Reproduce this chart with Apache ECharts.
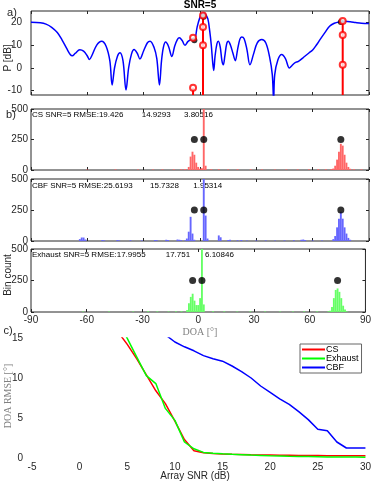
<!DOCTYPE html>
<html><head><meta charset="utf-8">
<script src="https://cdn.jsdelivr.net/npm/echarts@6/dist/echarts.min.js"></script>
<style>html,body{margin:0;padding:0;background:#fff}#c{width:374px;height:481px}</style>
</head><body><div id="c"></div>
<script>
// ---------- data ----------
const doaTicks = [-90, -60, -30, 0, 30, 60, 90];
const pTicks = [-10, 0, 10, 20];
const countTicks = [0, 250, 500];
const snrTicks = [-5, 0, 5, 10, 15, 20, 25, 30];
const rmseTicks = [0, 5, 10, 15];

// panel a: beam power (deg, dB)
const beamDeg = [-90,-85,-82,-79,-76,-73.5,-71,-69,-68,-66.5,-64,-62,-60,-58.9,-57.5,-55,-52.4,-50,-48,-46.8,-45.5,-44,-42.6,-41,-39.4,-38,-36.5,-35.1,-33.5,-32,-30,-28,-26.6,-24.5,-23,-21.6,-20.5,-19.5,-18.3,-16.8,-15,-13.5,-12,-11,-9.5,-8,-6.5,-5,-4,-3,-1.5,0,1,2,3,4.2,5.2,6,6.8,7.3,8,9,9.8,10.8,11.7,12.4,13.2,14.2,15.1,16.2,17.5,18.8,20,21.2,22.2,23.5,25,26.6,28.5,30.5,32.9,35,37,38.5,39.2,39.8,41.5,43.5,45.5,47.6,49,50.5,52.4,55,58,60,62,64,66.5,69,71.5,74,77,80,83,86,90];
const beamDb = [20,19.8,19.2,17.8,15.5,12.3,8.5,5.7,5.3,6.3,7.9,7.3,5.2,3.6,5.5,10,11.7,9.5,3,-7.6,0,5,6.6,3,-9.8,0,6,8,6.5,3.9,7.5,11,11.7,9,4,-7.6,3,9,11.3,9.5,5,9.5,12.5,13.2,12,9.9,11.5,12.4,12.8,12.2,18,22.3,23.7,24,23.5,21.5,16,10,2,-1.2,5,10.5,11.7,9,3,1.3,5,10.5,11.7,10,6.5,3.1,8,12.5,13.6,12.8,8,1.3,6,11,12.4,11,5,-3,-14,-3,3.5,5.8,4,-0.1,1,2.2,2.8,4.5,6.5,7.8,10,12.5,15.5,18.3,19.6,20.2,20.5,20.3,19.9,19.6,19.5];
// red stems (estimates) and circles
const stemDoa = [-3.7, 1.6, 76];
const stemTop = [-8.8, 23, 20.6];
const estDoa = [-3.7, -3.7, 1.6, 1.6, 1.6, 76, 76, 76];
const estP = [13.2, -8.8, 23, 17.9, 9.9, 20.6, 14.4, 1.3];
// true DOAs
const trueDoa = [-3, 2, 75];
const trueP = [12.1, 22.5, 20.2];
const trueCount = [250, 250, 250];

// histograms (bin centre deg, count)
const csBins   = [-60,-45,-33,-25,-20,-14,-10,-8,-6,-5,-4,-3,-2,-1,0,1,2,3,6,10,15,20,27,33,40,46,52,58,63,67,70,71,72,73,74,75,76,77,78,79,80,82,86];
const csCounts = [4,5,4,5,5,6,6,8,25,110,150,125,60,25,10,15,700,35,6,6,5,6,5,5,4,5,5,5,6,6,8,12,35,85,150,215,200,125,60,25,10,6,5];
const cbfBins   = [-64,-63,-62,-61,-52,-51,-44,-43,-37,-31,-24,-23,-18,-17,-12,-11,-10,-8,-7,-6,-5,-4,-3,2,3,4,10,11,15,16,20,22,25,30,35,40,45,50,54,55,56,60,65,71,72,73,74,75,76,77,78,79,80];
const cbfCounts = [15,28,28,12,8,5,8,5,6,5,8,6,10,8,12,10,6,5,20,75,195,60,10,700,205,20,45,30,8,10,6,8,5,5,5,4,5,6,10,12,8,5,5,15,40,110,180,236,180,110,60,25,10];
const exBins   = [-62,-48,-35,-27,-22,-16,-12,-9,-6,-5,-4,-3,-2,-1,0,1,2,3,8,14,21,28,36,44,51,57,64,70,71,72,73,74,75,76,77,78,79,80];
const exCounts = [3,4,4,5,5,4,5,6,15,70,120,145,90,55,55,110,700,60,6,5,4,5,4,4,4,5,5,5,10,40,110,175,187,160,110,50,20,5];

// panel c: RMSE vs array SNR
const snr = [4,5,6,7,8,9,10,11,12,13,14,15,16,17,18,19,20,21,22,23,24,25,26,27,28,29,30];
const rmseCS      = [15.8,14.2,12.4,10.4,8.4,6.8,4.6,2.3,0.9,0.65,0.55,0.5,0.46,0.43,0.4,0.38,0.36,0.34,0.33,0.32,0.31,0.3,0.29,0.29,0.28,0.28,0.28];
const rmseExhaust = [17.3,14.95,12.6,10.3,9.3,6.2,4.7,2.0,1.15,0.7,0.6,0.52,0.46,0.41,0.36,0.32,0.28,0.25,0.22,0.2,0.18,0.16,0.14,0.13,0.12,0.11,0.1];
const rmseCBF     = [null,null,null,null,null,15.4,14.5,13.9,13.4,12.8,12.4,12.1,11.5,10.8,10.0,9.0,8.2,7.4,6.7,5.8,4.8,3.6,3.4,2.0,1.25,1.25,1.25];

// ---------- styling ----------
const AX = '#262626';
const SANS = 'Liberation Sans, Arial, Helvetica, sans-serif';
const SERIF = 'Liberation Serif, Times New Roman, serif';

const grids = [
  {left: 31, right: 5, top: 11, height: 84, show: true},
  {left: 31, right: 5, top: 109, height: 61, show: true},
  {left: 31, right: 5, top: 179, height: 62, show: true},
  {left: 31, right: 5, top: 249, height: 63, show: true},
  {left: 32, right: 5, top: 338, height: 120, show: false}
].map(g => Object.assign({borderColor: AX, borderWidth: 1, backgroundColor: 'transparent'}, g));

const xAxes = [], yAxes = [];
function addAxes(gi, xr, xt, showXLab, yr, yt, ylabMargin, xlabMargin, box) {
  const tick = {show: box, inside: true, length: 3, lineStyle: {color: AX, width: 1}};
  const line = {show: false, onZero: false};
  const common = {type: 'value', gridIndex: gi, splitLine: {show: false}};
  xAxes.push(Object.assign({}, common, {min: xr[0], max: xr[1], position: 'bottom', axisLine: line,
    axisTick: Object.assign({customValues: xt}, tick),
    axisLabel: {show: showXLab, customValues: xt, margin: xlabMargin, fontSize: 10, color: AX, fontFamily: SANS}}));
  xAxes.push(Object.assign({}, common, {min: xr[0], max: xr[1], position: 'top', show: box,
    axisLine: line, axisTick: Object.assign({customValues: xt}, tick), axisLabel: {show: false}}));
  yAxes.push(Object.assign({}, common, {min: yr[0], max: yr[1], position: 'left', axisLine: line,
    axisTick: Object.assign({customValues: yt}, tick),
    axisLabel: {show: true, customValues: yt, margin: ylabMargin, fontSize: 10, color: AX, fontFamily: SANS}}));
  yAxes.push(Object.assign({}, common, {min: yr[0], max: yr[1], position: 'right', show: box,
    axisLine: line, axisTick: Object.assign({customValues: yt}, tick), axisLabel: {show: false}}));
}
addAxes(0, [-90, 90], doaTicks, false, [-12, 25], pTicks, 9, 4, true);
addAxes(1, [-90, 90], doaTicks, false, [0, 500], countTicks, 3, 4, true);
addAxes(2, [-90, 90], doaTicks, false, [0, 500], countTicks, 3, 4, true);
addAxes(3, [-90, 90], doaTicks, true, [0, 500], countTicks, 3, 3, true);
addAxes(4, [-5, 30], snrTicks, true, [0, 15], rmseTicks, 9, 4, false);

function zip(a, b) { return a.map((v, i) => [v, b[i]]); }

function histSeries(gi, bins, counts, color) {
  return {
    type: 'custom', xAxisIndex: gi * 2, yAxisIndex: gi * 2, clip: true, silent: true,
    data: zip(bins, counts),
    renderItem: function (params, api) {
      const c = api.value(0), v = api.value(1);
      const p0 = api.coord([c - 0.5, 0]);
      const p1 = api.coord([c + 0.5, v]);
      const rect = echarts.graphic.clipRectByRect(
        {x: p0[0], y: p1[1], width: p1[0] - p0[0], height: p0[1] - p1[1]},
        {x: params.coordSys.x, y: params.coordSys.y, width: params.coordSys.width, height: params.coordSys.height});
      return rect && {type: 'rect', shape: rect, style: {fill: color}};
    }
  };
}
function markerSeries(gi, xs, ys, size) {
  return {type: 'scatter', xAxisIndex: gi * 2, yAxisIndex: gi * 2, symbol: 'circle', symbolSize: size,
    itemStyle: {color: '#000'}, data: zip(xs, ys), silent: true, z: 5};
}

const series = [
  {type: 'line', xAxisIndex: 0, yAxisIndex: 0, data: zip(beamDeg, beamDb), smooth: 0.35, showSymbol: false,
   lineStyle: {color: '#0000ff', width: 1.5}, silent: true},
  {type: 'custom', xAxisIndex: 0, yAxisIndex: 0, clip: true, silent: true, data: zip(stemDoa, stemTop),
   renderItem: function (params, api) {
     const p0 = api.coord([api.value(0), -12]);
     const p1 = api.coord([api.value(0), api.value(1)]);
     return {type: 'line', shape: {x1: p0[0], y1: p0[1], x2: p1[0], y2: p1[1]}, style: {stroke: '#ff0000', lineWidth: 2}};
   }, z: 3},
  markerSeries(0, trueDoa, trueP, 6),
  {type: 'scatter', xAxisIndex: 0, yAxisIndex: 0, symbol: 'emptyCircle', symbolSize: 6, silent: true,
   itemStyle: {color: '#ff0000', borderColor: '#ff0000', borderWidth: 2}, data: zip(estDoa, estP), z: 6},
  histSeries(1, csBins, csCounts, '#ff6666'),
  markerSeries(1, trueDoa, trueCount, 7),
  histSeries(2, cbfBins, cbfCounts, '#6666ff'),
  markerSeries(2, trueDoa, trueCount, 7),
  histSeries(3, exBins, exCounts, '#66ff66'),
  markerSeries(3, trueDoa, trueCount, 7),
  {name: 'CS', type: 'line', xAxisIndex: 8, yAxisIndex: 8, data: zip(snr, rmseCS), showSymbol: false,
   lineStyle: {color: '#ff0000', width: 1.5}, itemStyle: {color: '#ff0000'}, silent: true},
  {name: 'Exhaust', type: 'line', xAxisIndex: 8, yAxisIndex: 8, data: zip(snr, rmseExhaust), showSymbol: false,
   lineStyle: {color: '#00ff00', width: 1.5}, itemStyle: {color: '#00ff00'}, silent: true},
  {name: 'CBF', type: 'line', xAxisIndex: 8, yAxisIndex: 8, data: zip(snr, rmseCBF), showSymbol: false,
   lineStyle: {color: '#0000ff', width: 1.5}, itemStyle: {color: '#0000ff'}, silent: true}
];

function txt(x, y, s, opt) {
  return Object.assign({type: 'text', x: x, y: y, silent: true,
    style: Object.assign({text: s, fontSize: 10, fontFamily: SANS, fill: AX, textAlign: 'left', textVerticalAlign: 'middle'}, (opt && opt.style) || {})},
    opt && opt.rotation ? {rotation: opt.rotation} : {});
}
const R = Math.PI / 2;
const graphics = [
  txt(200, 5, 'SNR=5', {style: {fontWeight: 'bold', textAlign: 'center', fill: '#000'}}),
  txt(12, 13, 'a)', {style: {textAlign: 'center', fontSize: 11}}),
  txt(11, 115, 'b)', {style: {textAlign: 'center', fontSize: 11}}),
  txt(8, 331, 'c)', {style: {textAlign: 'center', fontSize: 11}}),
  txt(8, 58, 'P [dB]', {rotation: R, style: {textAlign: 'center'}}),
  txt(8, 275, 'Bin count', {rotation: R, style: {textAlign: 'center'}}),
  txt(200, 332, 'DOA [°]', {style: {textAlign: 'center', fontFamily: SERIF, fill: '#808080', fontSize: 10}}),
  txt(8, 396, 'DOA RMSE [°]', {rotation: R, style: {textAlign: 'center', fontFamily: SERIF, fill: '#808080', fontSize: 10}}),
  txt(195, 476, 'Array SNR (dB)', {style: {textAlign: 'center', fontSize: 10}}),
  txt(32, 115, 'CS SNR=5 RMSE:19.426', {style: {fontSize: 8, fill: '#000'}}),
  txt(141.7, 115, '14.9293', {style: {fontSize: 8, fill: '#000'}}),
  txt(184, 115, '3.80516', {style: {fontSize: 8, fill: '#000'}}),
  txt(32, 185.5, 'CBF SNR=5 RMSE:25.6193', {style: {fontSize: 8, fill: '#000'}}),
  txt(150, 185.5, '15.7328', {style: {fontSize: 8, fill: '#000'}}),
  txt(193.3, 185.5, '1.95314', {style: {fontSize: 8, fill: '#000'}}),
  txt(32, 255, 'Exhaust SNR=5 RMSE:17.9955', {style: {fontSize: 8, fill: '#000'}}),
  txt(165.7, 255, '17.751', {style: {fontSize: 8, fill: '#000'}}),
  txt(205, 255, '6.10846', {style: {fontSize: 8, fill: '#000'}})
];

const chart = echarts.init(document.getElementById('c'), null, {renderer: 'canvas'});
chart.setOption({
  animation: false,
  grid: grids,
  xAxis: xAxes,
  yAxis: yAxes,
  legend: {data: ['CS', 'Exhaust', 'CBF'], orient: 'vertical', left: 300, top: 344, icon: 'rect',
    itemWidth: 23, itemHeight: 2, itemGap: 0, padding: [1, 3, 1, 2], borderColor: '#666', borderWidth: 1,
    backgroundColor: '#fff', textStyle: {fontSize: 9, fontFamily: SANS, color: '#000', padding: [0, 0, 0, -4]},
    selectedMode: false},
  series: series,
  graphic: graphics
});
</script>
</body></html>
